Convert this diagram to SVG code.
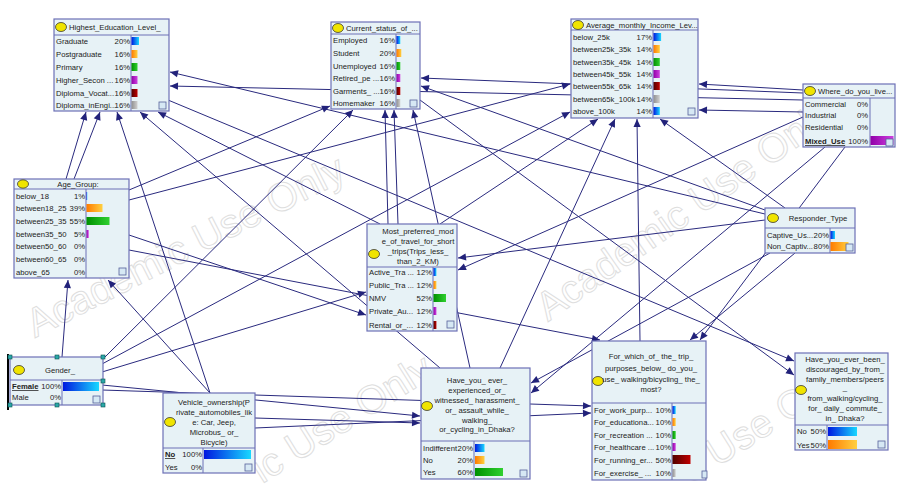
<svg xmlns="http://www.w3.org/2000/svg" width="903" height="490" viewBox="0 0 903 490">
<defs>
<style>
.box{fill:#e7f2f6;stroke:#6d70b6;stroke-width:1.2}
.sep{stroke:#6d70b6;stroke-width:1}
.dot{fill:#f0e400;stroke:#3a3a3a;stroke-width:0.8}
.t{font-family:"Liberation Sans",Arial,sans-serif;font-size:7.7px;fill:#222}
.c{text-anchor:middle}
.e{text-anchor:end}
.b{font-weight:bold;text-decoration:underline}
.edge{stroke:#2a2a7e;stroke-width:1;fill:none;marker-end:url(#ah)}
.wm{font-family:"Liberation Sans",Arial,sans-serif;font-size:40px;fill:none;stroke:#dedede;stroke-width:1}
.chk{fill:#d6e8f4;stroke:#56609a;stroke-width:0.8}
.hd{fill:#2aa8a8;stroke:#0d5050;stroke-width:0.6}
</style>
<marker id="ah" viewBox="0 0 10 10" refX="10" refY="5" markerWidth="10" markerHeight="8" markerUnits="userSpaceOnUse" orient="auto">
<path d="M0,0.5 L10,5 L0,9.5 z" fill="#22227a"/>
</marker>
<linearGradient id="gB" x1="0" x2="1" y1="0" y2="0"><stop offset="0" stop-color="#0018e0"/><stop offset="1" stop-color="#18d8ff"/></linearGradient>
<linearGradient id="gO" x1="0" x2="1" y1="0" y2="0"><stop offset="0" stop-color="#ff7a00"/><stop offset="1" stop-color="#ffd040"/></linearGradient>
<linearGradient id="gG" x1="0" x2="1" y1="0" y2="0"><stop offset="0" stop-color="#009000"/><stop offset="1" stop-color="#30d030"/></linearGradient>
<linearGradient id="gP" x1="0" x2="1" y1="0" y2="0"><stop offset="0" stop-color="#9000a8"/><stop offset="1" stop-color="#d040e0"/></linearGradient>
<linearGradient id="gR" x1="0" x2="1" y1="0" y2="0"><stop offset="0" stop-color="#500000"/><stop offset="1" stop-color="#c00000"/></linearGradient>
<linearGradient id="gY" x1="0" x2="1" y1="0" y2="0"><stop offset="0" stop-color="#909090"/><stop offset="1" stop-color="#d0d0d0"/></linearGradient>
</defs>
<rect width="903" height="490" fill="#ffffff"/>
<g id="watermark">
<text class="wm" transform="translate(35,338) rotate(-27)">Academic Use Only</text>
<text class="wm" transform="translate(548,322) rotate(-35)">Academic Use Only</text>
<text class="wm" transform="translate(262,484) rotate(-32)">ic Use Only</text>
<text class="wm" transform="translate(690,484) rotate(-32)">c Use Only</text>
</g>
<g id="connectors">
<line class="edge" x1="66" y1="179" x2="86" y2="112"/>
<line class="edge" x1="74" y1="179" x2="100" y2="112"/>
<line class="edge" x1="210" y1="393" x2="117" y2="112"/>
<line class="edge" x1="380" y1="224" x2="158" y2="112"/>
<line class="edge" x1="765" y1="214" x2="170" y2="72"/>
<line class="edge" x1="803" y1="100" x2="170" y2="86"/>
<line class="edge" x1="440" y1="368" x2="140" y2="112"/>
<line class="edge" x1="388" y1="224" x2="385" y2="110"/>
<line class="edge" x1="398" y1="224" x2="394" y2="110"/>
<line class="edge" x1="102" y1="360" x2="353" y2="110"/>
<line class="edge" x1="470" y1="368" x2="413" y2="110"/>
<line class="edge" x1="803" y1="93" x2="421" y2="78"/>
<line class="edge" x1="765" y1="210" x2="421" y2="86"/>
<line class="edge" x1="129" y1="190" x2="330" y2="106"/>
<line class="edge" x1="803" y1="90" x2="699" y2="84"/>
<line class="edge" x1="803" y1="112" x2="699" y2="110"/>
<line class="edge" x1="785" y1="208" x2="660" y2="119"/>
<line class="edge" x1="500" y1="368" x2="615" y2="119"/>
<line class="edge" x1="640" y1="341" x2="637" y2="119"/>
<line class="edge" x1="440" y1="224" x2="598" y2="119"/>
<line class="edge" x1="129" y1="200" x2="570" y2="84"/>
<line class="edge" x1="102" y1="364" x2="570" y2="112"/>
<line class="edge" x1="765" y1="220" x2="458" y2="258"/>
<line class="edge" x1="803" y1="117" x2="458" y2="270"/>
<line class="edge" x1="102" y1="372" x2="366" y2="292"/>
<line class="edge" x1="129" y1="235" x2="366" y2="315"/>
<line class="edge" x1="102" y1="385" x2="420" y2="416"/>
<line class="edge" x1="255" y1="418" x2="420" y2="423"/>
<line class="edge" x1="770" y1="253" x2="531" y2="383"/>
<line class="edge" x1="825" y1="147" x2="531" y2="393"/>
<line class="edge" x1="102" y1="390" x2="591" y2="406"/>
<line class="edge" x1="255" y1="428" x2="591" y2="413"/>
<line class="edge" x1="795" y1="253" x2="690" y2="340"/>
<line class="edge" x1="129" y1="250" x2="600" y2="340"/>
<line class="edge" x1="845" y1="147" x2="700" y2="340"/>
<line class="edge" x1="168" y1="100" x2="794" y2="361"/>
<line class="edge" x1="420" y1="100" x2="794" y2="375"/>
<line class="edge" x1="210" y1="393" x2="108" y2="280"/>
<line class="edge" x1="62" y1="357" x2="68" y2="280"/>
</g>

<g id="n-education">
<rect class="box" x="54" y="19" width="115" height="92"/>
<line class="sep" x1="54" y1="35" x2="169" y2="35"/>
<line class="sep" x1="131" y1="35" x2="131" y2="111"/>
<ellipse class="dot" cx="61" cy="27" rx="5.5" ry="4.5"/>
<text class="t" x="69" y="30">Highest_Education_Level_</text>
<text class="t" x="56" y="44">Graduate</text><text class="t e" x="130" y="44">20%</text><rect x="131.5" y="37" width="7.5" height="8" fill="url(#gB)"/>
<text class="t" x="56" y="57">Postgraduate</text><text class="t e" x="130" y="57">16%</text><rect x="131.5" y="50" width="6" height="8" fill="url(#gO)"/>
<text class="t" x="56" y="70">Primary</text><text class="t e" x="130" y="70">16%</text><rect x="131.5" y="63" width="6" height="8" fill="url(#gG)"/>
<text class="t" x="56" y="83">Higher_Secon ...</text><text class="t e" x="130" y="83">16%</text><rect x="131.5" y="76" width="6" height="8" fill="url(#gP)"/>
<text class="t" x="56" y="96">Diploma_Vocat...</text><text class="t e" x="130" y="96">16%</text><rect x="131.5" y="89" width="6" height="8" fill="url(#gR)"/>
<text class="t" x="56" y="108">Diploma_inEngi...</text><text class="t e" x="130" y="108">16%</text><rect x="131.5" y="101" width="6" height="8" fill="url(#gY)"/>
<rect class="chk" x="159" y="102" width="7" height="7"/>
</g>

<g id="n-status">
<rect class="box" x="331" y="22" width="89" height="87"/>
<line class="sep" x1="331" y1="34" x2="420" y2="34"/>
<line class="sep" x1="396" y1="34" x2="396" y2="109"/>
<ellipse class="dot" cx="338" cy="28" rx="5.5" ry="4.5"/>
<text class="t" x="346" y="31">Current_status_of_...</text>
<text class="t" x="333" y="43">Employed</text><text class="t e" x="395" y="43">16%</text><rect x="396.5" y="36" width="3.8" height="8" fill="url(#gB)"/>
<text class="t" x="333" y="56">Student</text><text class="t e" x="395" y="56">20%</text><rect x="396.5" y="49" width="4.8" height="8" fill="url(#gO)"/>
<text class="t" x="333" y="69">Unemployed</text><text class="t e" x="395" y="69">16%</text><rect x="396.5" y="62" width="3.8" height="8" fill="url(#gG)"/>
<text class="t" x="333" y="81">Retired_pe ...</text><text class="t e" x="395" y="81">16%</text><rect x="396.5" y="74" width="3.8" height="8" fill="url(#gP)"/>
<text class="t" x="333" y="94">Garments_ ...</text><text class="t e" x="395" y="94">16%</text><rect x="396.5" y="87" width="3.8" height="8" fill="url(#gR)"/>
<text class="t" x="333" y="106">Homemaker</text><text class="t e" x="395" y="106">16%</text><rect x="396.5" y="99" width="3.8" height="8" fill="url(#gY)"/>
<rect class="chk" x="410" y="100" width="7" height="7"/>
</g>

<g id="n-income">
<rect class="box" x="571" y="19" width="127" height="99"/>
<line class="sep" x1="571" y1="30" x2="698" y2="30"/>
<line class="sep" x1="653" y1="30" x2="653" y2="118"/>
<ellipse class="dot" cx="578" cy="25" rx="5.5" ry="4.5"/>
<text class="t" x="586" y="28">Average_monthly_Income_Lev...</text>
<text class="t" x="573" y="40">below_25k</text><text class="t e" x="652" y="40">17%</text><rect x="653.5" y="33" width="7.6" height="8" fill="url(#gB)"/>
<text class="t" x="573" y="52">between25k_35k</text><text class="t e" x="652" y="52">14%</text><rect x="653.5" y="45" width="6.3" height="8" fill="url(#gO)"/>
<text class="t" x="573" y="65">between35k_45k</text><text class="t e" x="652" y="65">14%</text><rect x="653.5" y="58" width="6.3" height="8" fill="url(#gG)"/>
<text class="t" x="573" y="77">between45k_55k</text><text class="t e" x="652" y="77">14%</text><rect x="653.5" y="70" width="6.3" height="8" fill="url(#gP)"/>
<text class="t" x="573" y="89">between55k_65k</text><text class="t e" x="652" y="89">14%</text><rect x="653.5" y="82" width="6.3" height="8" fill="url(#gR)"/>
<text class="t" x="573" y="102">between65k_100k</text><text class="t e" x="652" y="102">14%</text><rect x="653.5" y="95" width="6.3" height="8" fill="url(#gY)"/>
<text class="t" x="573" y="114">above_100k</text><text class="t e" x="652" y="114">14%</text><rect x="653.5" y="107" width="6.3" height="8" fill="url(#gB)"/>
<rect class="chk" x="688" y="108" width="7" height="7"/>
</g>

<g id="n-live">
<rect class="box" x="803" y="84" width="92" height="63"/>
<line class="sep" x1="803" y1="98" x2="895" y2="98"/>
<line class="sep" x1="870" y1="98" x2="870" y2="147"/>
<ellipse class="dot" cx="810" cy="91" rx="5.5" ry="4.5"/>
<text class="t" x="818" y="94">Where_do_you_live...</text>
<text class="t" x="805" y="107">Commercial</text><text class="t e" x="868" y="107">0%</text>
<text class="t" x="805" y="118">Industrial</text><text class="t e" x="868" y="118">0%</text>
<text class="t" x="805" y="130">Residential</text><text class="t e" x="868" y="130">0%</text>
<text class="t b" x="805" y="144">Mixed_Use</text><text class="t e" x="868" y="144">100%</text><rect x="870.5" y="136" width="23" height="9" fill="url(#gP)"/>
<rect class="chk" x="886" y="139" width="7" height="7"/>
</g>

<g id="n-age">
<rect class="box" x="14" y="179" width="115" height="99"/>
<line class="sep" x1="14" y1="189" x2="129" y2="189"/>
<line class="sep" x1="86" y1="189" x2="86" y2="278"/>
<ellipse class="dot" cx="23" cy="184" rx="5.5" ry="4.2"/>
<text class="t c" x="78" y="187">Age_Group:</text>
<text class="t" x="16" y="199">below_18</text><text class="t e" x="85" y="199">1%</text><rect x="86.5" y="192" width="0.8" height="8" fill="url(#gB)"/>
<text class="t" x="16" y="211">between18_25</text><text class="t e" x="85" y="211">39%</text><rect x="86.5" y="204" width="16" height="8" fill="url(#gO)"/>
<text class="t" x="16" y="224">between25_35</text><text class="t e" x="85" y="224">55%</text><rect x="86.5" y="217" width="23" height="8" fill="url(#gG)"/>
<text class="t" x="16" y="237">between35_50</text><text class="t e" x="85" y="237">5%</text><rect x="86.5" y="230" width="2.2" height="8" fill="url(#gP)"/>
<text class="t" x="16" y="249">between50_60</text><text class="t e" x="85" y="249">0%</text>
<text class="t" x="16" y="262">between60_65</text><text class="t e" x="85" y="262">0%</text>
<text class="t" x="16" y="275">above_65</text><text class="t e" x="85" y="275">0%</text>
<rect class="chk" x="119" y="268" width="7" height="7"/>
</g>

<g id="n-mode">
<rect class="box" x="367" y="224" width="90" height="107"/>
<line class="sep" x1="367" y1="267" x2="457" y2="267"/>
<line class="sep" x1="433" y1="267" x2="433" y2="331"/>
<ellipse class="dot" cx="374" cy="254" rx="5.5" ry="4.5"/>
<text class="t c" x="418" y="234">Most_preferred_mod</text>
<text class="t c" x="418" y="244">e_of_travel_for_short</text>
<text class="t c" x="418" y="254">_trips(Trips_less_</text>
<text class="t c" x="418" y="264">than_2_KM)</text>
<text class="t" x="369" y="275">Active_Tra ...</text><text class="t e" x="432" y="275">12%</text><rect x="433.5" y="268" width="2.9" height="8" fill="url(#gB)"/>
<text class="t" x="369" y="288">Public_Tra ...</text><text class="t e" x="432" y="288">12%</text><rect x="433.5" y="281" width="2.9" height="8" fill="url(#gO)"/>
<text class="t" x="369" y="301">NMV</text><text class="t e" x="432" y="301">52%</text><rect x="433.5" y="294" width="12.5" height="8" fill="url(#gG)"/>
<text class="t" x="369" y="314">Private_Au...</text><text class="t e" x="432" y="314">12%</text><rect x="433.5" y="307" width="2.9" height="8" fill="url(#gP)"/>
<text class="t" x="369" y="328">Rental_or_...</text><text class="t e" x="432" y="328">12%</text><rect x="433.5" y="321" width="2.9" height="8" fill="url(#gR)"/>
<rect class="chk" x="447" y="321" width="7" height="7"/>
</g>

<g id="n-responder">
<rect class="box" x="765" y="208" width="90" height="45"/>
<line class="sep" x1="765" y1="228" x2="855" y2="228"/>
<line class="sep" x1="830" y1="228" x2="830" y2="253"/>
<ellipse class="dot" cx="773" cy="218" rx="5.5" ry="4.5"/>
<text class="t c" x="818" y="221">Responder_Type</text>
<text class="t" x="767" y="238">Captive_Us...</text><text class="t e" x="829" y="238">20%</text><rect x="830.5" y="231" width="4.5" height="8" fill="url(#gB)"/>
<text class="t" x="767" y="249">Non_Captiv...</text><text class="t e" x="829" y="249">80%</text><rect x="830.5" y="242" width="18" height="9" fill="url(#gO)"/>
<rect class="chk" x="846" y="244" width="7" height="7"/>
</g>

<g id="n-gender">
<rect class="box" x="10" y="357" width="93" height="48"/>
<line x1="8" y1="354" x2="8" y2="410" stroke="#000" stroke-width="2"/>
<line class="sep" x1="10" y1="380" x2="103" y2="380"/>
<line class="sep" x1="62" y1="380" x2="62" y2="405"/>
<ellipse class="dot" cx="19" cy="370" rx="5.5" ry="4.5"/>
<text class="t c" x="60" y="373">Gender_</text>
<text class="t b" x="12" y="389">Female</text><text class="t e" x="61" y="389">100%</text><rect x="63" y="382" width="36" height="9" fill="url(#gB)"/>
<text class="t" x="12" y="400">Male</text><text class="t e" x="61" y="400">0%</text>
<rect class="chk" x="93" y="396" width="7" height="7"/>
<rect class="hd" x="8" y="355" width="4" height="4"/><rect class="hd" x="55" y="355" width="4" height="4"/><rect class="hd" x="101" y="355" width="4" height="4"/>
<rect class="hd" x="101" y="379" width="4" height="4"/>
<rect class="hd" x="8" y="403" width="4" height="4"/><rect class="hd" x="55" y="403" width="4" height="4"/><rect class="hd" x="101" y="403" width="4" height="4"/>
</g>

<g id="n-vehicle">
<rect class="box" x="163" y="393" width="92" height="80"/>
<line class="sep" x1="163" y1="448" x2="255" y2="448"/>
<line class="sep" x1="203" y1="448" x2="203" y2="473"/>
<ellipse class="dot" cx="170" cy="422" rx="5.5" ry="4.5"/>
<text class="t c" x="214" y="405">Vehicle_ownership(P</text>
<text class="t c" x="214" y="415">rivate_automobiles_lik</text>
<text class="t c" x="214" y="425">e: Car, Jeep,</text>
<text class="t c" x="214" y="435">Microbus_ or_</text>
<text class="t c" x="214" y="445">Bicycle)</text>
<text class="t b" x="165" y="457">No</text><text class="t e" x="202" y="457">100%</text><rect x="204" y="450" width="47" height="9" fill="url(#gB)"/>
<text class="t" x="165" y="470">Yes</text><text class="t e" x="202" y="470">0%</text>
<rect class="chk" x="245" y="464" width="7" height="7"/>
</g>

<g id="n-harass">
<rect class="box" x="421" y="368" width="109" height="111"/>
<line class="sep" x1="421" y1="441" x2="530" y2="441"/>
<line class="sep" x1="474" y1="441" x2="474" y2="479"/>
<ellipse class="dot" cx="427" cy="406" rx="5.5" ry="4.5"/>
<text class="t c" x="477" y="383">Have_you_ ever_</text>
<text class="t c" x="477" y="393">experienced_or_</text>
<text class="t c" x="477" y="403">witnessed_ harassment_</text>
<text class="t c" x="477" y="413">or_ assault_while_</text>
<text class="t c" x="477" y="423">walking_</text>
<text class="t c" x="477" y="432">or_cycling_in_Dhaka?</text>
<text class="t" x="423" y="451">Indifferent</text><text class="t e" x="473" y="451">20%</text><rect x="475" y="444" width="9.5" height="8" fill="url(#gB)"/>
<text class="t" x="423" y="463">No</text><text class="t e" x="473" y="463">20%</text><rect x="475" y="456" width="9.5" height="8" fill="url(#gO)"/>
<text class="t" x="423" y="475">Yes</text><text class="t e" x="473" y="475">60%</text><rect x="475" y="468" width="28" height="8" fill="url(#gG)"/>
<rect class="chk" x="520" y="470" width="7" height="7"/>
</g>

<g id="n-purpose">
<rect class="box" x="592" y="341" width="114" height="139"/>
<line class="sep" x1="592" y1="403" x2="706" y2="403"/>
<line class="sep" x1="672" y1="403" x2="672" y2="480"/>
<ellipse class="dot" cx="598" cy="381" rx="5.5" ry="4.5"/>
<text class="t c" x="651" y="359">For_which_of_ the_ trip_</text>
<text class="t c" x="651" y="371">purposes_below_ do_you_</text>
<text class="t c" x="651" y="382">use_ walking/bicycling_ the_</text>
<text class="t c" x="651" y="392">most?</text>
<text class="t" x="594" y="413">For_work_purp...</text><text class="t e" x="671" y="413">10%</text><rect x="672.5" y="406" width="3.2" height="8" fill="url(#gB)"/>
<text class="t" x="594" y="425">For_educationa...</text><text class="t e" x="671" y="425">10%</text><rect x="672.5" y="418" width="3.2" height="8" fill="url(#gO)"/>
<text class="t" x="594" y="438">For_recreation ...</text><text class="t e" x="671" y="438">10%</text><rect x="672.5" y="431" width="3.2" height="8" fill="url(#gG)"/>
<text class="t" x="594" y="450">For_healthcare ...</text><text class="t e" x="671" y="450">10%</text><rect x="672.5" y="443" width="3.2" height="8" fill="url(#gP)"/>
<text class="t" x="594" y="463">For_running_er...</text><text class="t e" x="671" y="463">50%</text><rect x="672.5" y="455" width="18" height="9" fill="url(#gR)"/>
<text class="t" x="594" y="476">For_exercise_ ...</text><text class="t e" x="671" y="476">10%</text><rect x="672.5" y="469" width="3.2" height="8" fill="url(#gY)"/>
<rect class="chk" x="702" y="471" width="5" height="7"/>
</g>

<g id="n-discouraged">
<rect class="box" x="795" y="353" width="93" height="97"/>
<line class="sep" x1="795" y1="425" x2="888" y2="425"/>
<line class="sep" x1="827" y1="425" x2="827" y2="450"/>
<ellipse class="dot" cx="801" cy="390" rx="5.5" ry="4.5"/>
<text class="t c" x="845" y="362">Have_you_ever_been_</text>
<text class="t c" x="845" y="372">discouraged_by_from_</text>
<text class="t c" x="845" y="382">family_members/peers</text>
<text class="t c" x="845" y="390">_</text>
<text class="t c" x="845" y="401">from_walking/cycling_</text>
<text class="t c" x="845" y="411">for_ daily_ commute_</text>
<text class="t c" x="845" y="421">in_ Dhaka?</text>
<text class="t" x="797" y="434">No</text><text class="t e" x="826" y="434">50%</text><rect x="828" y="427" width="29" height="9" fill="url(#gB)"/>
<text class="t" x="797" y="448">Yes</text><text class="t e" x="826" y="448">50%</text><rect x="828" y="440" width="29" height="9" fill="url(#gO)"/>
<rect class="chk" x="878" y="441" width="7" height="7"/>
</g>
</svg>
